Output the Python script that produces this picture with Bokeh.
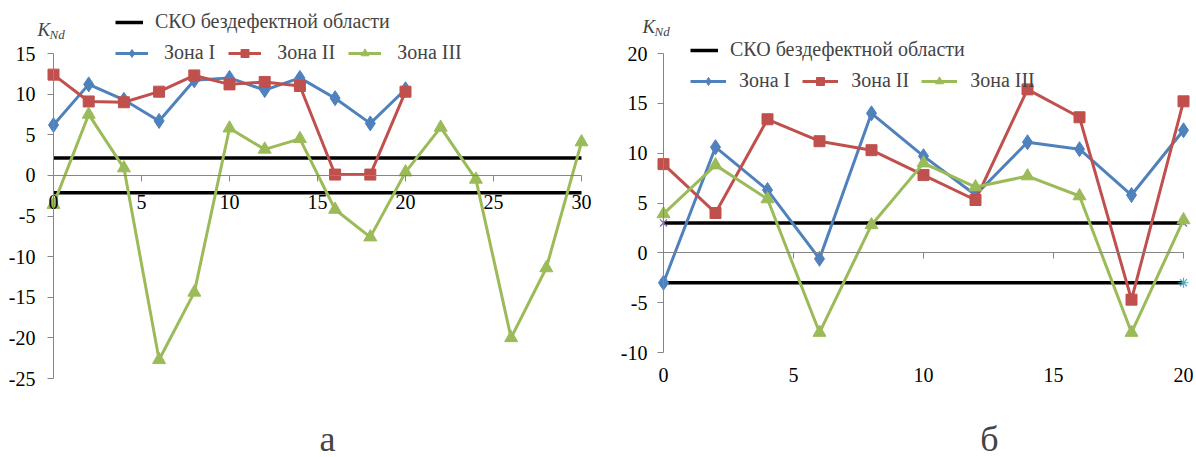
from bokeh.plotting import figure
from bokeh.models import (Range1d, LinearAxis, SingleIntervalTicker, Legend, LegendItem, Label,
                          PrintfTickFormatter)
from bokeh.layouts import row
from bokeh.embed import file_html
from bokeh.resources import INLINE

# ---------------- data: chart "а" ----------------
x_a_zones12 = [0, 2, 4, 6, 8, 10, 12, 14, 16, 18, 20]
zone1_a = [6.2, 11.2, 9.3, 6.7, 11.7, 12.0, 10.5, 12.0, 9.5, 6.4, 10.6]
zone2_a = [12.4, 9.1, 9.0, 10.3, 12.3, 11.2, 11.5, 11.0, 0.1, 0.1, 10.3]
x_a_zone3 = [0, 2, 4, 6, 8, 10, 12, 14, 16, 18, 20, 22, 24, 26, 28, 30]
zone3_a = [-3.6, 7.5, 0.9, -22.7, -14.4, 5.8, 3.2, 4.5, -4.2, -7.6, 0.4, 5.9, -0.5, -20.0, -11.4, 4.1]
sko_a_x = [0, 30]
sko_a = 2.15

# ---------------- data: chart "б" ----------------
x_b = [0, 2, 4, 6, 8, 10, 12, 14, 16, 18, 20]
zone1_b = [-3.0, 10.6, 6.3, -0.6, 14.0, 9.7, 5.8, 11.1, 10.4, 5.8, 12.3]
zone2_b = [8.9, 4.0, 13.4, 11.2, 10.3, 7.8, 5.3, 16.4, 13.6, -4.7, 15.2]
zone3_b = [3.9, 8.8, 5.4, -8.0, 2.8, 9.0, 6.6, 7.7, 5.7, -8.0, 3.3]
sko_b_x = [0, 20]
sko_b = 3.0

# axis extents and ticks
a_xbounds, a_ybounds = (0, 30), (-25, 15)
b_xbounds, b_ybounds = (0, 20), (-10, 20)
tick_step = 5

legend_labels = ["СКО бездефектной области", "Зона I", "Зона II", "Зона III"]
captions = ["а", "б"]

FONT = "Liberation Serif"
BLUE, RED, GREEN = "#4F81BD", "#C0504D", "#9BBB59"
PURPLE, CYAN = "#8064A2", "#4BACC6"
AXIS_GREY = "#868686"
W, H = 598, 457


def style_axis(ax):
    ax.axis_line_color = AXIS_GREY
    ax.axis_line_width = 1
    ax.major_tick_line_color = AXIS_GREY
    ax.major_tick_out = 6
    ax.major_tick_in = 0
    ax.minor_tick_line_color = None
    ax.major_label_text_font = FONT
    ax.major_label_text_font_size = "20px"
    ax.major_label_text_color = "black"
    ax.formatter = PrintfTickFormatter(format="%d")


def make_fig(xb, yb, x0px, x1px, ytop_px, ybot_px):
    # frame covers the whole canvas; data ranges chosen so that the plot area
    # (xb, yb) lands at the given pixel box
    sx = (x1px - x0px) / (xb[1] - xb[0])
    sy = (ybot_px - ytop_px) / (yb[1] - yb[0])
    xr = Range1d(xb[0] - x0px / sx, xb[1] + (W - x1px) / sx)
    yr = Range1d(yb[0] - (H - ybot_px) / sy, yb[1] + ytop_px / sy)
    p = figure(width=W, height=H, output_backend="svg", toolbar_location=None,
               x_range=xr, y_range=yr, x_axis_location=None, y_axis_location=None,
               min_border=0)
    p.outline_line_color = None
    p.xgrid.visible = False
    p.ygrid.visible = False
    p.background_fill_color = "white"
    p.border_fill_color = "white"
    yax = LinearAxis(ticker=SingleIntervalTicker(interval=tick_step), fixed_location=xb[0],
                     bounds=yb)
    style_axis(yax)
    p.add_layout(yax, "left")
    return p, yax, sy


def add_zones(p, x12, z1, z2, x3, z3):
    l1 = p.line(x12, z1, line_color=BLUE, line_width=3)
    m1 = p.scatter(x12, z1, marker="diamond", size=15, fill_color=BLUE, line_color=BLUE)
    l2 = p.line(x12, z2, line_color=RED, line_width=3)
    m2 = p.scatter(x12, z2, marker="square", size=11, fill_color=RED, line_color=RED)
    l3 = p.line(x3, z3, line_color=GREEN, line_width=3)
    m3 = p.scatter(x3, z3, marker="triangle", size=13, fill_color=GREEN, line_color=GREEN)
    return [l1, m1], [l2, m2], [l3, m3]


def legends(p, sko_r, z1r, z2r, z3r, x0, y1, y2, gw2, st2, sp2):
    common = dict(padding=0, margin=0, border_line_color=None, background_fill_alpha=0,
                  label_text_font=FONT, label_text_font_size="20px", glyph_height=20,
                  label_height=20, orientation="horizontal")
    lg1 = Legend(items=[LegendItem(label=legend_labels[0], renderers=[sko_r])],
                 location=(x0, y1), glyph_width=28, label_standoff=12, **common)
    lg2 = Legend(items=[LegendItem(label=legend_labels[1], renderers=z1r),
                        LegendItem(label=legend_labels[2], renderers=z2r),
                        LegendItem(label=legend_labels[3], renderers=z3r)],
                 location=(x0, y2), glyph_width=gw2, label_standoff=st2, spacing=sp2, **common)
    p.add_layout(lg1)
    p.add_layout(lg2)


def knd(p, xk, k_mid_top):
    yk = H - k_mid_top
    p.add_layout(Label(x=xk, y=yk, x_units="screen", y_units="screen", text="K",
                       text_font=FONT, text_font_style="italic", text_font_size="19px",
                       text_baseline="middle"))
    p.add_layout(Label(x=xk + 12, y=yk - 5, x_units="screen", y_units="screen", text="Nd",
                       text_font=FONT, text_font_style="italic", text_font_size="13px",
                       text_baseline="middle"))


def caption(p, text, xc):
    p.add_layout(Label(x=xc, y=H - 438, x_units="screen", y_units="screen", text=text,
                       text_font=FONT, text_font_size="36px", text_align="center",
                       text_baseline="middle"))


# ================= chart а =================
pa, ya, _ = make_fig(a_xbounds, a_ybounds, 53, 581, 53, 378)
ya.major_label_standoff = 12
xa = LinearAxis(ticker=SingleIntervalTicker(interval=tick_step), fixed_location=0,
                bounds=a_xbounds)
style_axis(xa)
xa.major_label_standoff = 14
pa.add_layout(xa, "below")

ska1 = pa.line(sko_a_x, [sko_a, sko_a], line_color="black", line_width=3.5)
pa.line(sko_a_x, [-sko_a, -sko_a], line_color="black", line_width=3.5)
za1, za2, za3 = add_zones(pa, x_a_zones12, zone1_a, zone2_a, x_a_zone3, zone3_a)
legends(pa, ska1, za1, za2, za3, 115, 424, 393, 33, 16, 13)
knd(pa, 37, 29)
caption(pa, captions[0], 327)

# ================= chart б =================
pb, yb, syb = make_fig(b_xbounds, b_ybounds, 65, 585, 53, 352)
yb.major_label_standoff = 10
# axis line at y = 0, tick labels placed low (below the plot area)
xb = LinearAxis(ticker=SingleIntervalTicker(interval=tick_step), fixed_location=0,
                bounds=b_xbounds)
style_axis(xb)
xb.major_label_standoff = int(round(15 + (0 - b_ybounds[0]) * syb - 6))
pb.add_layout(xb, "below")

skb1 = pb.line(sko_b_x, [sko_b, sko_b], line_color="black", line_width=3.5)
pb.scatter(sko_b_x, [sko_b, sko_b], marker="x", size=10, line_color=PURPLE, line_width=1.2)
pb.line(sko_b_x, [-sko_b, -sko_b], line_color="black", line_width=3.5)
pb.scatter(sko_b_x, [-sko_b, -sko_b], marker="asterisk", size=10, line_color=CYAN, line_width=1.2)
zb1, zb2, zb3 = add_zones(pb, x_b, zone1_b, zone2_b, x_b, zone3_b)
legends(pb, skb1, zb1, zb2, zb3, 92, 396, 365, 36, 13, 12)
knd(pb, 44, 26)
caption(pb, captions[1], 391)

layout = row(pa, pb, spacing=0)
open("out.html", "w").write(file_html(layout, INLINE))
